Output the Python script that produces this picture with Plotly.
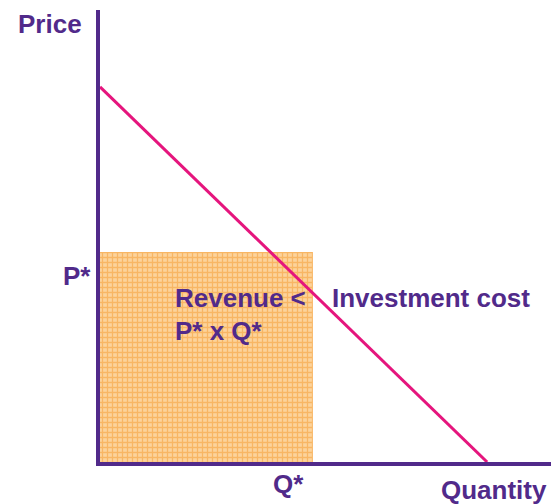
import plotly.graph_objects as go

# Data (economic units)
demand_q = [0, 10]
demand_p = [10, 0]
q_star = 5.5
p_star = 5.6
x_max = 11.65
y_max = 12.05

PURPLE = "#512A8A"
PINK = "#E5157D"
FONT = "Liberation Sans, Arial, sans-serif"

fig = go.Figure()

# Shaded revenue rectangle
fig.add_trace(go.Scatter(
    x=[0, q_star, q_star, 0, 0],
    y=[0, 0, p_star, p_star, 0],
    mode="lines", line=dict(width=0),
    fill="toself", fillcolor="#FBC880",
    fillpattern=dict(shape="+", fgcolor="#F39A2C", bgcolor="#FCD39C", size=5, solidity=0.45),
    hoverinfo="skip", showlegend=False,
))

# Demand line
fig.add_trace(go.Scatter(
    x=demand_q, y=demand_p, mode="lines",
    line=dict(color=PINK, width=3),
    hoverinfo="skip", showlegend=False, cliponaxis=False,
))

tf = dict(family=FONT, size=26, color=PURPLE)
ann = [
    dict(text="<b>Price</b>", x=-0.111, y=0.969, xanchor="center", yanchor="middle"),
    dict(text="<b>P*</b>", x=-0.015, y=0.412, xanchor="right", yanchor="middle"),
    dict(text="<b>Q*</b>", x=0.417, y=-0.048, xanchor="center", yanchor="middle"),
    dict(text="<b>Quantity</b>", x=0.9955, y=-0.062, xanchor="right", yanchor="middle"),
    dict(text="<b>Revenue <</b>", x=0.162, y=0.363, xanchor="left", yanchor="middle"),
    dict(text="<b>P* x Q*</b>", x=0.162, y=0.290, xanchor="left", yanchor="middle"),
    dict(text="<b>Investment cost</b>", x=0.510, y=0.363, xanchor="left", yanchor="middle"),
]
for a in ann:
    a.update(xref="paper", yref="paper", showarrow=False, font=tf)

fig.update_layout(
    width=551, height=504,
    margin=dict(l=100, r=0, t=10, b=42, pad=0),
    paper_bgcolor="white", plot_bgcolor="white",
    annotations=ann,
    xaxis=dict(range=[0, x_max], showgrid=False, zeroline=False, showticklabels=False,
               ticks="", showline=True, linecolor=PURPLE, linewidth=4, fixedrange=True),
    yaxis=dict(range=[0, y_max], showgrid=False, zeroline=False, showticklabels=False,
               ticks="", showline=True, linecolor=PURPLE, linewidth=4, fixedrange=True),
)

fig.write_html(
    "out.html",
    config={"displayModeBar": False, "staticPlot": True},
    post_script="document.body.style.margin='0px';document.body.style.overflow='hidden';",
)
